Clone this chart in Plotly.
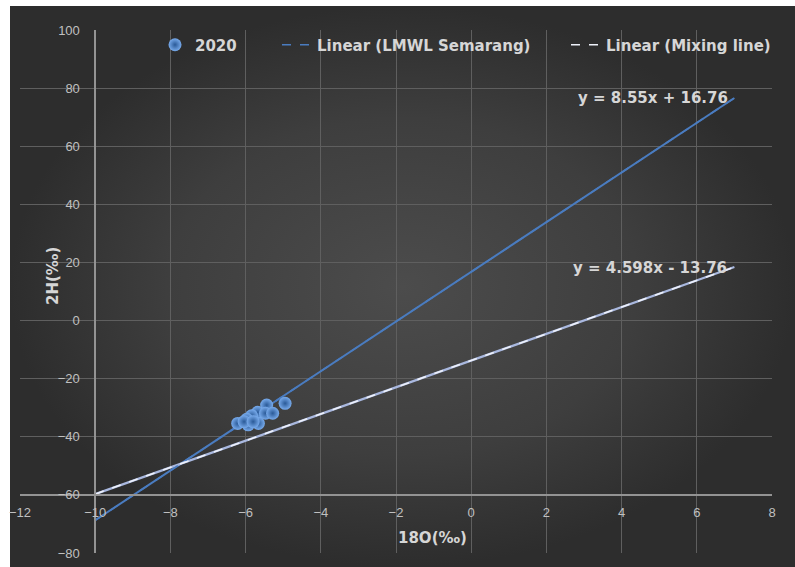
import plotly.graph_objects as go

# Isotope samples, 2020
d18o_2020 = [-6.21, -5.44, -4.95, -5.68, -5.47, -5.28, -5.84, -5.97, -5.66, -5.93, -6.04, -5.80]
d2h_2020 = [-35.4, -29.1, -28.5, -31.6, -31.9, -31.9, -32.8, -34.0, -35.4, -35.9, -34.8, -34.8]

# Fitted lines: slope, intercept, x extent
lmwl_slope, lmwl_intercept = 8.55, 16.76
mix_slope, mix_intercept = 4.598, -13.76
line_x = [-10, 7]

x_ticks = list(range(-12, 9, 2))
y_ticks = list(range(-80, 101, 20))

W, H = 795, 567
# plot area in pixels
PL, PR, PT, PB = 20, 772, 30, 553
dom_x = [PL / W, PR / W]
dom_y = [(H - PB) / H, (H - PT) / H]

x_range = [-12, 8]
y_range = [-80, 100]


def frac_y(v):
    return dom_y[0] + (v - y_range[0]) / (y_range[1] - y_range[0]) * (dom_y[1] - dom_y[0])


def frac_x(v):
    return dom_x[0] + (v - x_range[0]) / (x_range[1] - x_range[0]) * (dom_x[1] - dom_x[0])


txt = "#d6d6d6"
tick_col = "#c0c0c0"
grid_col = "#5f5f5f"
axis_col = "#939393"
font_fam = "Liberation Sans, Arial, sans-serif"
bold_fam = "DejaVu Sans, sans-serif"

fig = go.Figure()

# dark chart panel with soft radial shading
fig.add_trace(go.Scatter(
    x=[10, 795, 795, 10, 10], y=[6, 6, 567, 567, 6],
    xaxis="x", yaxis="y", mode="lines", line=dict(width=0),
    fill="toself",
    fillgradient=dict(type="radial", colorscale=[[0, "#4c4c4c"], [0.6, "#3e3e3e"], [1, "#2d2d2d"]]),
    hoverinfo="skip", showlegend=False,
))


def line_y(slope, intercept):
    return [slope * v + intercept for v in line_x]


# series lines
fig.add_trace(go.Scatter(
    x=line_x, y=line_y(lmwl_slope, lmwl_intercept), xaxis="x2", yaxis="y2",
    mode="lines", line=dict(color="#4a7cc0", width=2), showlegend=False, hoverinfo="skip",
))
fig.add_trace(go.Scatter(
    x=line_x, y=line_y(mix_slope, mix_intercept), xaxis="x2", yaxis="y2",
    mode="lines", line=dict(color="#a9b8df", width=2.2), showlegend=False, hoverinfo="skip",
))

# trendlines
fig.add_trace(go.Scatter(
    x=line_x, y=line_y(lmwl_slope, lmwl_intercept), xaxis="x2", yaxis="y2",
    mode="lines", name="<b>Linear (LMWL Semarang)</b>", legend="legend2",
    line=dict(color="#4a7cc0", width=1.6, dash="dash"),
))
fig.add_trace(go.Scatter(
    x=line_x, y=line_y(mix_slope, mix_intercept), xaxis="x2", yaxis="y2",
    mode="lines", name="<b>Linear (Mixing line)</b>", legend="legend3",
    line=dict(color="#eef1fa", width=1.6, dash="dash"),
))

# sample points
fig.add_trace(go.Scatter(
    x=d18o_2020, y=d2h_2020, xaxis="x2", yaxis="y2",
    mode="markers", name="<b>2020</b>", legend="legend",
    marker=dict(size=13, color="#78abec",
                gradient=dict(type="radial", color="#2a5a98"),
                line=dict(width=0)),
))

leg_font = dict(family=bold_fam, size=15, color=txt)
leg_y = (H - 45) / H


def leg(xpix):
    return dict(x=xpix / W, y=leg_y, xanchor="left", yanchor="middle",
                orientation="h", bgcolor="rgba(0,0,0,0)", font=leg_font,
                borderwidth=0)


fig.update_layout(
    width=W, height=H,
    margin=dict(l=0, r=0, t=0, b=0, autoexpand=False),
    paper_bgcolor="white",
    plot_bgcolor="rgba(0,0,0,0)",
    font=dict(family=font_fam, color=tick_col, size=13),
    xaxis=dict(domain=[0, 1], range=[0, W], visible=False, fixedrange=True),
    yaxis=dict(domain=[0, 1], range=[H, 0], visible=False, fixedrange=True),
    xaxis2=dict(
        domain=dom_x, range=x_range, anchor="free", position=frac_y(-60),
        tickvals=x_ticks, showgrid=True, gridcolor=grid_col, gridwidth=1,
        zeroline=False, showline=True, linecolor=axis_col, linewidth=1.5,
        ticks="", ticklabelstandoff=6, tickfont=dict(size=13, color=tick_col),
    ),
    yaxis2=dict(
        domain=dom_y, range=y_range, anchor="free", position=frac_x(-10),
        tickvals=y_ticks, showgrid=True, gridcolor=grid_col, gridwidth=1,
        zeroline=False, showline=True, linecolor=axis_col, linewidth=1.5,
        ticks="", ticklabelstandoff=12, tickfont=dict(size=13, color=tick_col),
    ),
    legend=leg(155),
    legend2=leg(277),
    legend3=leg(566),
    showlegend=True,
)

ann_font = dict(family=bold_fam, size=15, color=txt)
fig.add_annotation(x=4.84, y=76.6, xref="x2", yref="y2", text="<b>y = 8.55x + 16.76</b>",
                   showarrow=False, font=ann_font)
fig.add_annotation(x=4.76, y=18.1, xref="x2", yref="y2", text="<b>y = 4.598x - 13.76</b>",
                   showarrow=False, font=ann_font)
fig.add_annotation(x=42 / W, y=(H - 276) / H, xref="paper", yref="paper", text="<b>2H(‰)</b>",
                   textangle=-90, showarrow=False, font=dict(family=bold_fam, size=15, color=txt))
fig.add_annotation(x=432 / W, y=(H - 549) / H, xref="paper", yref="paper", text="<b>18O(‰)</b>",
                   showarrow=False, font=dict(family=bold_fam, size=15, color=txt))

fig.write_html("out.html")
